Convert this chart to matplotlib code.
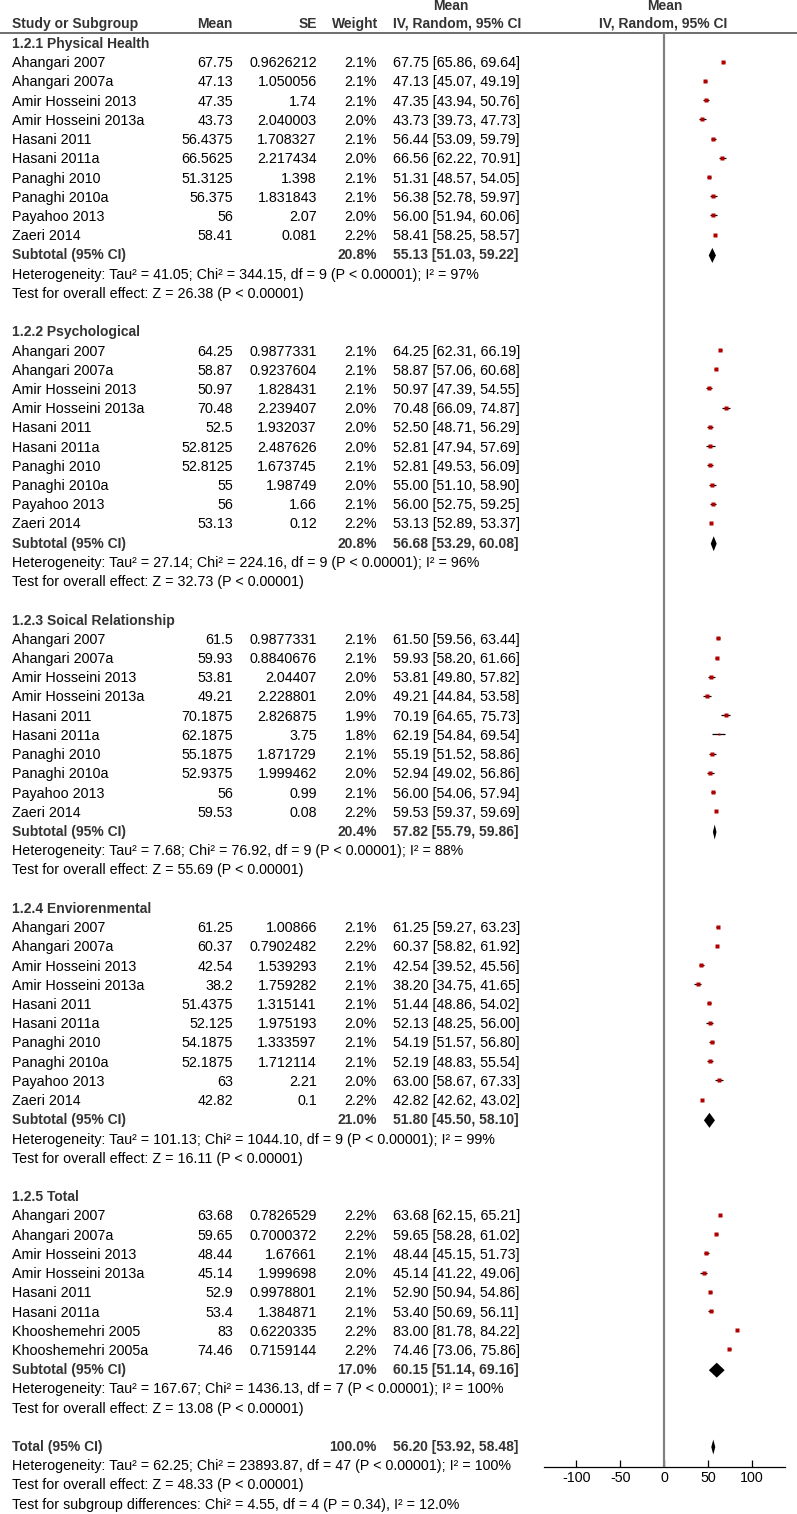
import matplotlib.pyplot as plt

plt.rcParams['font.family'] = ['Liberation Sans', 'DejaVu Sans']

# ---- data ----
group_titles = ['1.2.1 Physical Health', '1.2.2 Psychological', '1.2.3 Soical Relationship',
                '1.2.4 Enviorenmental', '1.2.5 Total']

studies10 = ['Ahangari 2007', 'Ahangari 2007a', 'Amir Hosseini 2013', 'Amir Hosseini 2013a',
             'Hasani 2011', 'Hasani 2011a', 'Panaghi 2010', 'Panaghi 2010a', 'Payahoo 2013', 'Zaeri 2014']
studies_total = ['Ahangari 2007', 'Ahangari 2007a', 'Amir Hosseini 2013', 'Amir Hosseini 2013a',
                 'Hasani 2011', 'Hasani 2011a', 'Khooshemehri 2005', 'Khooshemehri 2005a']

phys_mean = [67.75, 47.13, 47.35, 43.73, 56.4375, 66.5625, 51.3125, 56.375, 56, 58.41]
phys_se = [0.9626212, 1.050056, 1.74, 2.040003, 1.708327, 2.217434, 1.398, 1.831843, 2.07, 0.081]
phys_w = [2.1, 2.1, 2.1, 2.0, 2.1, 2.0, 2.1, 2.1, 2.0, 2.2]
phys_est = [67.75, 47.13, 47.35, 43.73, 56.44, 66.56, 51.31, 56.38, 56.00, 58.41]
phys_lo = [65.86, 45.07, 43.94, 39.73, 53.09, 62.22, 48.57, 52.78, 51.94, 58.25]
phys_hi = [69.64, 49.19, 50.76, 47.73, 59.79, 70.91, 54.05, 59.97, 60.06, 58.57]

psy_mean = [64.25, 58.87, 50.97, 70.48, 52.5, 52.8125, 52.8125, 55, 56, 53.13]
psy_se = [0.9877331, 0.9237604, 1.828431, 2.239407, 1.932037, 2.487626, 1.673745, 1.98749, 1.66, 0.12]
psy_w = [2.1, 2.1, 2.1, 2.0, 2.0, 2.0, 2.1, 2.0, 2.1, 2.2]
psy_est = [64.25, 58.87, 50.97, 70.48, 52.50, 52.81, 52.81, 55.00, 56.00, 53.13]
psy_lo = [62.31, 57.06, 47.39, 66.09, 48.71, 47.94, 49.53, 51.10, 52.75, 52.89]
psy_hi = [66.19, 60.68, 54.55, 74.87, 56.29, 57.69, 56.09, 58.90, 59.25, 53.37]

soc_mean = [61.5, 59.93, 53.81, 49.21, 70.1875, 62.1875, 55.1875, 52.9375, 56, 59.53]
soc_se = [0.9877331, 0.8840676, 2.04407, 2.228801, 2.826875, 3.75, 1.871729, 1.999462, 0.99, 0.08]
soc_w = [2.1, 2.1, 2.0, 2.0, 1.9, 1.8, 2.1, 2.0, 2.1, 2.2]
soc_est = [61.50, 59.93, 53.81, 49.21, 70.19, 62.19, 55.19, 52.94, 56.00, 59.53]
soc_lo = [59.56, 58.20, 49.80, 44.84, 64.65, 54.84, 51.52, 49.02, 54.06, 59.37]
soc_hi = [63.44, 61.66, 57.82, 53.58, 75.73, 69.54, 58.86, 56.86, 57.94, 59.69]

env_mean = [61.25, 60.37, 42.54, 38.2, 51.4375, 52.125, 54.1875, 52.1875, 63, 42.82]
env_se = [1.00866, 0.7902482, 1.539293, 1.759282, 1.315141, 1.975193, 1.333597, 1.712114, 2.21, 0.1]
env_w = [2.1, 2.2, 2.1, 2.1, 2.1, 2.0, 2.1, 2.1, 2.0, 2.2]
env_est = [61.25, 60.37, 42.54, 38.20, 51.44, 52.13, 54.19, 52.19, 63.00, 42.82]
env_lo = [59.27, 58.82, 39.52, 34.75, 48.86, 48.25, 51.57, 48.83, 58.67, 42.62]
env_hi = [63.23, 61.92, 45.56, 41.65, 54.02, 56.00, 56.80, 55.54, 67.33, 43.02]

tot_mean = [63.68, 59.65, 48.44, 45.14, 52.9, 53.4, 83, 74.46]
tot_se = [0.7826529, 0.7000372, 1.67661, 1.999698, 0.9978801, 1.384871, 0.6220335, 0.7159144]
tot_w = [2.2, 2.2, 2.1, 2.0, 2.1, 2.1, 2.2, 2.2]
tot_est = [63.68, 59.65, 48.44, 45.14, 52.90, 53.40, 83.00, 74.46]
tot_lo = [62.15, 58.28, 45.15, 41.22, 50.94, 50.69, 81.78, 73.06]
tot_hi = [65.21, 61.02, 51.73, 49.06, 54.86, 56.11, 84.22, 75.86]

sub_w = [20.8, 20.8, 20.4, 21.0, 17.0]
sub_est = [55.13, 56.68, 57.82, 51.80, 60.15]
sub_lo = [51.03, 53.29, 55.79, 45.50, 51.14]
sub_hi = [59.22, 60.08, 59.86, 58.10, 69.16]
sub_het = ['Tau² = 41.05; Chi² = 344.15, df = 9 (P < 0.00001); I² = 97%',
           'Tau² = 27.14; Chi² = 224.16, df = 9 (P < 0.00001); I² = 96%',
           'Tau² = 7.68; Chi² = 76.92, df = 9 (P < 0.00001); I² = 88%',
           'Tau² = 101.13; Chi² = 1044.10, df = 9 (P < 0.00001); I² = 99%',
           'Tau² = 167.67; Chi² = 1436.13, df = 7 (P < 0.00001); I² = 100%']
sub_z = ['26.38', '32.73', '55.69', '16.11', '13.08']

overall_w = 100.0
overall_est, overall_lo, overall_hi = 56.20, 53.92, 58.48
overall_het = 'Tau² = 62.25; Chi² = 23893.87, df = 47 (P < 0.00001); I² = 100%'
overall_z = '48.33'
subgroup_test = 'Chi² = 4.55, df = 4 (P = 0.34), I² = 12.0%'

xticks = [-100, -50, 0, 50, 100]

groups = [
    (studies10, phys_mean, phys_se, phys_w, phys_est, phys_lo, phys_hi),
    (studies10, psy_mean, psy_se, psy_w, psy_est, psy_lo, psy_hi),
    (studies10, soc_mean, soc_se, soc_w, soc_est, soc_lo, soc_hi),
    (studies10, env_mean, env_se, env_w, env_est, env_lo, env_hi),
    (studies_total, tot_mean, tot_se, tot_w, tot_est, tot_lo, tot_hi),
]

# ---- layout (figure in pixels, rows in row units) ----
W, H = 797, 1514
ROW0, STEP = 44, 19.22
ytop = -ROW0 / STEP
ybot = (H - ROW0) / STEP

fig = plt.figure(figsize=(W / 100, H / 100), dpi=100)
ax = fig.add_axes([0, 0, 1, 1])
ax.set_xlim(0, W)
ax.set_ylim(ybot, ytop)
ax.axis('off')

# forest axes: pixel 480..797, zero at 664, 0.877 px per unit
px0, zero_px, ppu = 480, 664, 0.877
axf = fig.add_axes([px0 / W, 0, (W - px0) / W, 1], sharey=ax)
axf.set_xlim((px0 - zero_px) / ppu, (W - zero_px) / ppu)
axf.set_ylim(ybot, ytop)
axf.patch.set_alpha(0)
for s in ['top', 'left', 'right']:
    axf.spines[s].set_visible(False)

FS, FSB = 10.3, 10.0
BOLD = '#333333'
X_STUDY, X_MEAN, X_SE, X_W, X_CI = 12, 233, 317, 377, 393


def txt(x, y, s, ha='left', bold=False):
    ax.text(x, y, s, ha=ha, va='center', fontsize=FSB if bold else FS,
            fontweight='bold' if bold else 'normal', color=BOLD if bold else 'black')


def num(v):
    return repr(float(v)).removesuffix('.0')


def diamond(y, est, lo, hi, h=0.39):
    axf.fill([lo, est, hi, est], [y, y - h, y, y + h], color='black', lw=0)


# headers
hy1, hy2 = (6 - ROW0) / STEP, (24 - ROW0) / STEP
txt(X_STUDY, hy2, 'Study or Subgroup', bold=True)
txt(X_MEAN, hy2, 'Mean', ha='right', bold=True)
txt(X_SE, hy2, 'SE', ha='right', bold=True)
txt(X_W + 1, hy2, 'Weight', ha='right', bold=True)
txt(451, hy1, 'Mean', ha='center', bold=True)
txt(457, hy2, 'IV, Random, 95% CI', ha='center', bold=True)
txt(665, hy1, 'Mean', ha='center', bold=True)
txt(663, hy2, 'IV, Random, 95% CI', ha='center', bold=True)
line_y = (33 - ROW0) / STEP
ax.hlines(line_y, 0, W, color='#555555', lw=1.2)

row = 0
for g, (names, mean, se, w, est, lo, hi) in enumerate(groups):
    txt(X_STUDY, row, group_titles[g], bold=True)
    row += 1
    for i, name in enumerate(names):
        txt(X_STUDY, row, name)
        txt(X_MEAN, row, num(mean[i]), ha='right')
        txt(X_SE, row, num(se[i]), ha='right')
        txt(X_W, row, f'{w[i]:.1f}%', ha='right')
        txt(X_CI, row, f'{est[i]:.2f} [{lo[i]:.2f}, {hi[i]:.2f}]')
        axf.hlines(row - 0.08, lo[i], hi[i], color='black', lw=0.9)
        axf.plot(est[i], row - 0.08, marker='s', ms=w[i] * 1.15, color='#b00000', mec='none', ls='none')
        row += 1
    txt(X_STUDY, row, 'Subtotal (95% CI)', bold=True)
    txt(X_W, row, f'{sub_w[g]:.1f}%', ha='right', bold=True)
    txt(X_CI, row, f'{sub_est[g]:.2f} [{sub_lo[g]:.2f}, {sub_hi[g]:.2f}]', bold=True)
    diamond(row, sub_est[g], sub_lo[g], sub_hi[g])
    row += 1
    txt(X_STUDY, row, 'Heterogeneity: ' + sub_het[g])
    row += 1
    txt(X_STUDY, row, f'Test for overall effect: Z = {sub_z[g]} (P < 0.00001)')
    row += 2

txt(X_STUDY, row, 'Total (95% CI)', bold=True)
txt(X_W, row, f'{overall_w:.1f}%', ha='right', bold=True)
txt(X_CI, row, f'{overall_est:.2f} [{overall_lo:.2f}, {overall_hi:.2f}]', bold=True)
diamond(row, overall_est, overall_lo, overall_hi)
txt(X_STUDY, row + 1, 'Heterogeneity: ' + overall_het)
txt(X_STUDY, row + 2, f'Test for overall effect: Z = {overall_z} (P < 0.00001)')
txt(X_STUDY, row + 3, 'Test for subgroup differences: ' + subgroup_test)

# axis of the forest plot
axis_y = (1467 - ROW0) / STEP
axf.vlines(0, line_y, axis_y, color='#808080', lw=1.6)
axf.spines['bottom'].set_position(('data', axis_y))
axf.spines['bottom'].set_bounds((544 - zero_px) / ppu, (785 - zero_px) / ppu)
axf.spines['bottom'].set_linewidth(0.9)
axf.set_xticks(xticks)
axf.set_xticklabels([str(t) for t in xticks])
axf.tick_params(axis='x', direction='in', length=5, width=0.9, labelsize=FS, pad=3)
axf.tick_params(axis='y', left=False, labelleft=False)

fig.savefig('out.png', dpi=100)
